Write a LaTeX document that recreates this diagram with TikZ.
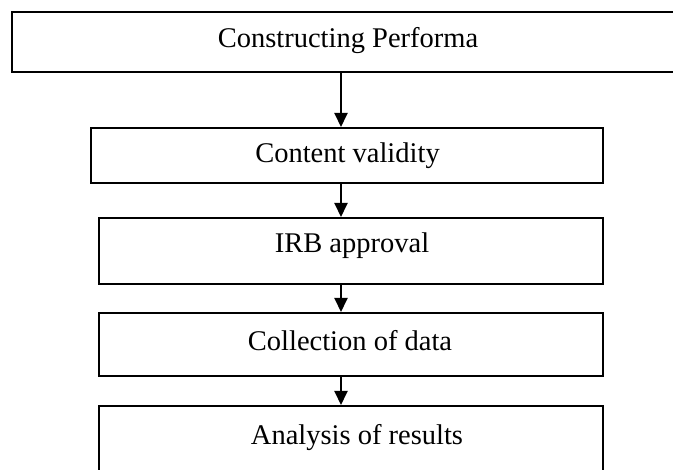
\documentclass[tikz,border=0pt]{standalone}
\usepackage{fontspec}
\setmainfont{Liberation Serif}
\usetikzlibrary{arrows.meta}
\begin{document}
\begin{tikzpicture}[x=1pt,y=-1pt,
  box/.style={draw=black,line width=1.9pt,rectangle,inner sep=0pt,anchor=north west},
  lbl/.style={anchor=base,inner sep=0pt,font=\fontsize{28.5}{31}\selectfont},
  arr/.style={draw=black,line width=1.9pt,-{Triangle[width=13pt,length=14pt]}}]
\useasboundingbox (0,0) rectangle (673,470);
\clip (0,0) rectangle (673,470);
\node[box,minimum width=674pt,minimum height=60pt] (b1) at (11,11) {};
\node[box,minimum width=512pt,minimum height=55pt] (b2) at (90,127) {};
\node[box,minimum width=504pt,minimum height=66pt] (b3) at (98,217) {};
\node[box,minimum width=504pt,minimum height=63pt] (b4) at (98,312) {};
\node[box,minimum width=504pt,minimum height=85pt] (b5) at (98,405) {};
\node[lbl] (t1) at (348,48) {Constructing Performa};
\node[lbl] (t2) at (347.5,163) {Content validity};
\node[lbl] (t3) at (352,253) {IRB approval};
\node[lbl] (t4) at (350,351) {Collection of data};
\node[lbl] (t5) at (357,445) {Analysis of results};
\coordinate (ax) at (341,0);
\draw[arr] (b1.south -| ax) -- (b2.north -| ax);
\draw[arr] (b2.south -| ax) -- (b3.north -| ax);
\draw[arr] (b3.south -| ax) -- (b4.north -| ax);
\draw[arr] (b4.south -| ax) -- (b5.north -| ax);
\end{tikzpicture}
\end{document}
